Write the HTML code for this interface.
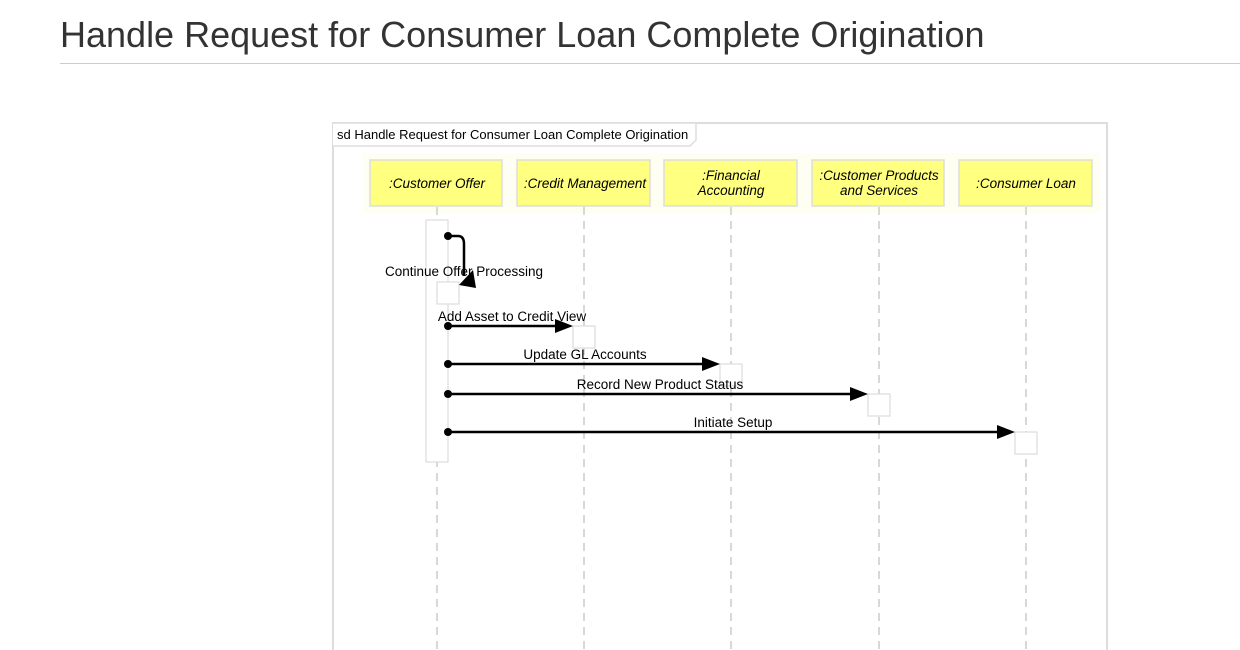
<!DOCTYPE html>
<html><head><meta charset="utf-8"><style>
body{margin:0;background:#fff;width:1240px;height:650px;overflow:hidden;font-family:"Liberation Sans",Arial,sans-serif}
h1{position:absolute;left:60px;top:14px;margin:0;font-weight:normal;font-size:36px;color:#333;letter-spacing:0}
.hr{position:absolute;left:60px;right:0;top:63px;height:1px;background:#ccc}
svg{position:absolute;left:0;top:0}
</style></head><body>
<h1>Handle Request for Consumer Loan Complete Origination</h1>
<div class="hr"></div>
<svg width="1240" height="650" font-family="Liberation Sans, Arial, sans-serif">
<rect x="333" y="123" width="774" height="540" fill="none" stroke="#ddd" stroke-width="2"/>
<path d="M333,123 H696 V140 L690,146 H333" fill="#fff" stroke="#ddd" stroke-width="1.5"/>
<text x="337" y="139" font-size="13" fill="#000">sd Handle Request for Consumer Loan Complete Origination</text>
<rect x="363" y="153" width="737" height="60" fill="#fefef2"/>
<g stroke="#ccc" stroke-width="1.5" stroke-dasharray="8,6">
<line x1="437" y1="207" x2="437" y2="650"/>
<line x1="584" y1="207" x2="584" y2="650"/>
<line x1="731" y1="207" x2="731" y2="650"/>
<line x1="879" y1="207" x2="879" y2="650"/>
<line x1="1026" y1="207" x2="1026" y2="650"/>
</g>
<g fill="#ffff80" stroke="#ddd" stroke-width="1.5">
<rect x="370" y="160" width="132" height="46"/>
<rect x="517" y="160" width="133" height="46"/>
<rect x="664" y="160" width="133" height="46"/>
<rect x="812" y="160" width="132" height="46"/>
<rect x="959" y="160" width="133" height="46"/>
</g>
<g font-size="13.5" font-style="italic" text-anchor="middle" fill="#000">
<text x="437" y="188">:Customer Offer</text>
<text x="585" y="188">:Credit Management</text>
<text x="731" y="180">:Financial</text><text x="731" y="195">Accounting</text>
<text x="879" y="180">:Customer Products</text><text x="879" y="195">and Services</text>
<text x="1026" y="188">:Consumer Loan</text>
</g>
<g fill="#fff" stroke="#ddd" stroke-width="1.2">
<rect x="426" y="220" width="22" height="242"/>
<rect x="437" y="282" width="22" height="22"/>
<rect x="573" y="326" width="22" height="22"/>
<rect x="720" y="364" width="22" height="22"/>
<rect x="868" y="394" width="22" height="22"/>
<rect x="1015" y="432" width="22" height="22"/>
</g>
<g stroke="#000" stroke-width="2.5" fill="none">
<path d="M448,236 H458 Q464,236 464,244 V276"/>
<line x1="448" y1="326" x2="560" y2="326"/>
<line x1="448" y1="364" x2="707" y2="364"/>
<line x1="448" y1="394" x2="855" y2="394"/>
<line x1="448" y1="432" x2="1002" y2="432"/>
</g>
<g fill="#000">
<circle cx="448" cy="236" r="4"/><circle cx="448" cy="326" r="4"/><circle cx="448" cy="364" r="4"/><circle cx="448" cy="394" r="4"/><circle cx="448" cy="432" r="4"/>
<polygon points="459,285 476,288 473,270"/>
<polygon points="573,326 555,319 555,333"/>
<polygon points="720,364 702,357 702,371"/>
<polygon points="868,394 850,387 850,401"/>
<polygon points="1015,432 997,425 997,439"/>
</g>
<g font-size="13.5" fill="#000" text-anchor="middle">
<text x="464" y="276">Continue Offer Processing</text>
<text x="512" y="321">Add Asset to Credit View</text>
<text x="585" y="359">Update GL Accounts</text>
<text x="660" y="389">Record New Product Status</text>
<text x="733" y="427">Initiate Setup</text>
</g>
</svg>
</body></html>
